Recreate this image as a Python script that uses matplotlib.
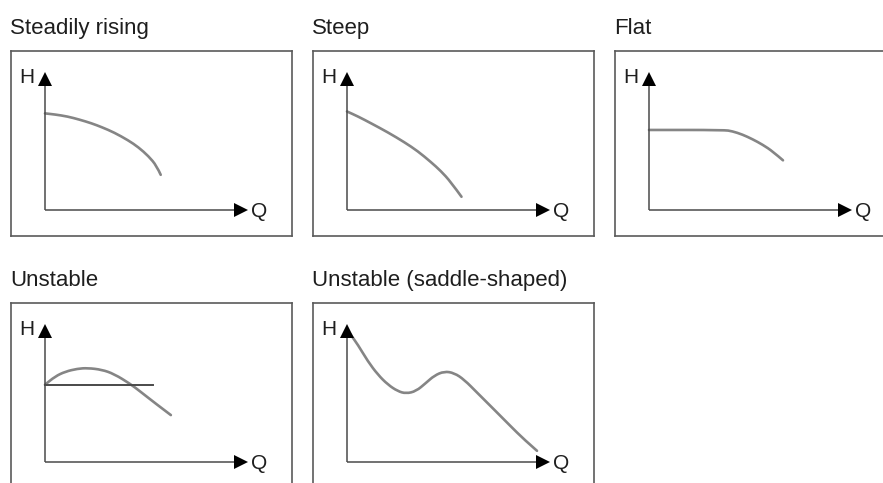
#!/usr/bin/env python3
"""Typical pump characteristic curve shapes (H over Q)."""

import matplotlib
matplotlib.use('Agg')
import matplotlib.pyplot as plt
from matplotlib.path import Path
from matplotlib.patches import PathPatch

plt.rcParams['font.family'] = ['Liberation Sans', 'DejaVu Sans']

# Curve shapes, Q and H normalised so the axis arrows end at 1.0
STEADY_Q = [0, 0.05, 0.11, 0.17, 0.23, 0.28, 0.34, 0.41, 0.46, 0.51, 0.55, 0.57]
STEADY_H = [0.70, 0.692, 0.678, 0.655, 0.628, 0.60, 0.562, 0.505, 0.455, 0.39, 0.32, 0.255]

STEEP_Q = [0, 0.054, 0.119, 0.201, 0.283, 0.348, 0.413, 0.462, 0.511, 0.564]
STEEP_H = [0.714, 0.678, 0.628, 0.563, 0.491, 0.427, 0.348, 0.283, 0.204, 0.096]

FLAT_Q = [0, 0.37, 0.41, 0.46, 0.51, 0.56, 0.61, 0.66]
FLAT_H = [0.58, 0.58, 0.571, 0.547, 0.513, 0.473, 0.424, 0.36]

UNSTABLE_Q = [0, 0.05, 0.10, 0.16, 0.21, 0.28, 0.34, 0.42, 0.47, 0.54, 0.62]
UNSTABLE_H = [0.56, 0.62, 0.655, 0.676, 0.681, 0.669, 0.638, 0.566, 0.51, 0.429, 0.34]
# shut-off head reference line of the unstable curve
UNSTABLE_LINE_Q = [0, 0.53]
UNSTABLE_LINE_H = [0.56, 0.56]

SADDLE_Q = [0.013, 0.054, 0.103, 0.152, 0.201, 0.25, 0.291, 0.340, 0.389,
            0.430, 0.479, 0.528, 0.577, 0.642, 0.724, 0.805, 0.871, 0.936]
SADDLE_H = [0.933, 0.849, 0.729, 0.633, 0.561, 0.513, 0.496, 0.513, 0.573,
            0.626, 0.657, 0.645, 0.597, 0.501, 0.381, 0.261, 0.165, 0.081]

TITLES = ['Steadily rising', 'Steep', 'Flat', 'Unstable', 'Unstable (saddle-shaped)']

W, H = 883, 483
BOX_W, BOX_H = 281, 185
Q_PX, H_PX = 203, 138        # pixels per unit on each panel
ORIGIN_DX, ORIGIN_DY = 34, 26  # axis origin offset inside the box

BOX_COLOR = '#5a5a5a'
AXIS_COLOR = '#4a4a4a'
CURVE_COLOR = '#858585'
TEXT_COLOR = '#1e1e1e'


def smooth_curve(ax, qs, hs):
    """Draw a rounded path through the points (quadratic segments via midpoints)."""
    pts = list(zip(qs, hs))
    verts = [pts[0]]
    codes = [Path.MOVETO]
    if len(pts) > 2:
        verts.append(((pts[0][0] + pts[1][0]) / 2, (pts[0][1] + pts[1][1]) / 2))
        codes.append(Path.LINETO)
        for i in range(1, len(pts) - 1):
            nxt = pts[i + 1]
            mid = ((pts[i][0] + nxt[0]) / 2, (pts[i][1] + nxt[1]) / 2)
            if i == len(pts) - 2:
                mid = nxt
            verts += [pts[i], mid]
            codes += [Path.CURVE3, Path.CURVE3]
    else:
        verts.append(pts[1])
        codes.append(Path.LINETO)
    patch = PathPatch(Path(verts, codes), facecolor='none', edgecolor=CURVE_COLOR,
                      lw=1.9, capstyle='round', joinstyle='round')
    ax.add_patch(patch)


def make_panel(fig, left, top, title):
    ax = fig.add_axes([left / W, (H - top - BOX_H) / H, BOX_W / W, BOX_H / H])
    ax.set_xlim(-ORIGIN_DX / Q_PX, (BOX_W - ORIGIN_DX) / Q_PX)
    ax.set_ylim(-ORIGIN_DY / H_PX, (BOX_H - ORIGIN_DY) / H_PX)
    ax.set_xticks([])
    ax.set_yticks([])
    for sp in ax.spines.values():
        sp.set_color(BOX_COLOR)
        sp.set_linewidth(1.2)

    # H and Q axes with filled arrowheads
    head = 10  # marker size in points
    half_q = head / 72 * 100 / 2 / Q_PX
    half_h = head / 72 * 100 / 2 / H_PX
    ax.plot([0, 0], [0, 1 - half_h], color=AXIS_COLOR, lw=1.1, solid_capstyle='butt')
    ax.plot([0, 1 - half_q], [0, 0], color=AXIS_COLOR, lw=1.1, solid_capstyle='butt')
    ax.plot([0], [1 - half_h], marker='^', ms=head, mew=0, color='black')
    ax.plot([1 - half_q], [0], marker='>', ms=head, mew=0, color='black')
    ax.text(-0.052, 0.918, 'H', ha='right', va='baseline', fontsize=15, color=TEXT_COLOR)
    ax.text(1.016, -0.05, 'Q', ha='left', va='baseline', fontsize=15, color=TEXT_COLOR)

    fig.text((left - 1) / W, (H - top + 17) / H, title, ha='left', va='baseline',
             fontsize=16, color=TEXT_COLOR)
    return ax


def main():
    fig = plt.figure(figsize=(W / 100, H / 100), dpi=100)

    ax = make_panel(fig, 11, 51, TITLES[0])
    smooth_curve(ax, STEADY_Q, STEADY_H)

    ax = make_panel(fig, 313, 51, TITLES[1])
    smooth_curve(ax, STEEP_Q, STEEP_H)

    ax = make_panel(fig, 615, 51, TITLES[2])
    smooth_curve(ax, FLAT_Q, FLAT_H)

    ax = make_panel(fig, 11, 303, TITLES[3])
    smooth_curve(ax, UNSTABLE_Q, UNSTABLE_H)
    ax.plot(UNSTABLE_LINE_Q, UNSTABLE_LINE_H, color=AXIS_COLOR, lw=1.4)

    ax = make_panel(fig, 313, 303, TITLES[4])
    smooth_curve(ax, SADDLE_Q, SADDLE_H)

    fig.savefig('out.png', dpi=100)


if __name__ == "__main__":
    main()
